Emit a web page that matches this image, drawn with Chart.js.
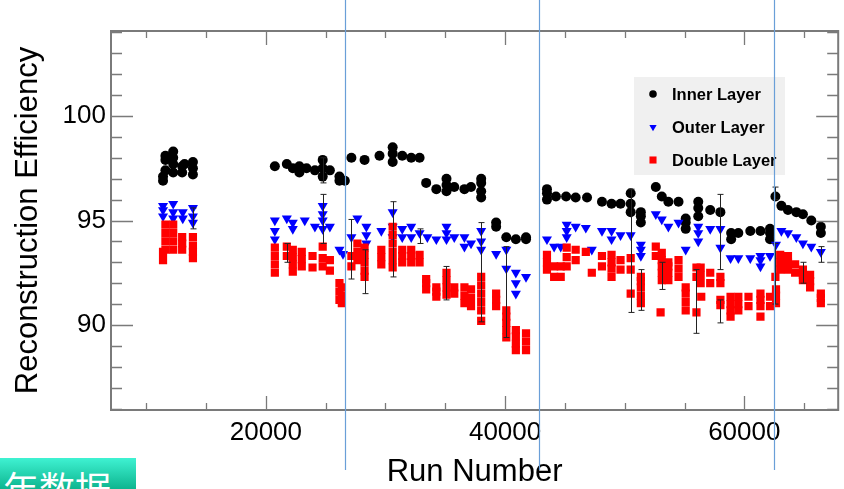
<!DOCTYPE html>
<html>
<head>
<meta charset="utf-8">
<script src="https://cdn.jsdelivr.net/npm/chart.js@4/dist/chart.umd.min.js"></script>
<style>
  html, body { margin: 0; padding: 0; background: #fff; }
  #wrap { position: relative; width: 844px; height: 489px; overflow: hidden; }
  #tag {
    position: absolute; left: 0; top: 458px; width: 136px; height: 31px; overflow: hidden;
    background: linear-gradient(#3ff2d2, #0db58f);
    color: #fff; font: 36px "Noto Sans CJK SC", sans-serif; line-height: 36px;
    padding-left: 3px; box-sizing: border-box;
  }
  #tag span { position: relative; top: 11px; }
</style>
</head>
<body>
<div id="wrap">
  <canvas id="mycanvas" width="844" height="489"></canvas>
  <div id="tag"><span>年数据</span></div>
</div>
<script>
// [run number, efficiency %]
var innerLayer = [
  [11400,96.9],[11400,97.1],[11600,97.4],[11600,97.9],[11600,98.1],[12250,97.3],[12250,97.7],[12250,98.0],[12250,98.3],
  [13000,97.6],[13000,97.3],[13200,97.7],[13900,97.2],[13900,97.5],[13900,97.8],
  [20750,97.6],[21750,97.7],[22250,97.5],[22800,97.3],[22800,97.6],[23400,97.5],[24100,97.4],
  [24750,97.1],[24750,97.5],[24750,97.9],[25350,97.4],[26150,96.9],[26150,97.1],[26600,96.9],
  [27150,98.0],[28250,97.9],[29500,98.1],[30600,97.8],[30600,98.2],[30600,98.5],[31400,98.1],[32150,98.0],[32850,98.0],
  [33400,96.8],[34250,96.5],[35100,96.4],[35100,96.7],[35100,97.0],[35750,96.6],[36600,96.5],[37150,96.6],
  [38000,96.1],[38000,96.4],[38000,96.8],[38000,97.0],
  [39250,94.7],[39250,94.9],[40100,94.2],[40900,94.1],[41750,94.1],[41750,94.2],
  [43500,96.0],[43500,96.3],[43500,96.5],[44250,96.15],[45100,96.15],[45900,96.1],[46850,96.1],[48100,95.9],
  [48900,95.8],[49650,95.8],[50500,95.4],[50500,95.8],[50500,96.3],[51350,94.9],[51350,95.2],[51350,95.4],
  [52600,96.6],[53100,96.15],[53650,95.9],[54500,95.9],[55100,94.6],[55100,94.9],[55100,95.1],
  [56150,95.2],[56150,95.6],[56150,95.9],[57150,95.5],[58000,95.4],[58900,94.1],[58900,94.4],[59500,94.4],
  [60500,94.5],[61350,94.5],[62150,94.1],[62150,94.4],[62150,94.6],[62600,96.15],
  [63100,95.7],[63650,95.5],[64350,95.4],[64900,95.3],[65600,95.0],[66400,94.4],[66400,94.7]
];

var outerLayer = [
  [11400,95.2],[11400,95.5],[11400,95.7],[12250,95.1],[12250,95.4],[12250,95.8],[13050,95.1],[13050,95.4],
  [13900,94.9],[13900,95.2],[13900,95.6],
  [20750,94.1],[20750,94.5],[20750,95.0],[21750,95.1],[22250,94.6],[22250,94.9],[23250,95.0],[24100,94.7],
  [24750,94.6],[24750,95.0],[24750,95.3],[24750,95.7],[25350,94.7],[26150,93.6],[26450,93.4],
  [27150,94.2],[27650,95.1],[28400,93.9],[28400,94.3],[28400,94.7],[29650,94.5],[30600,94.2],[30600,94.7],[30600,95.4],
  [31400,94.2],[31400,94.6],[32150,94.2],[32150,94.7],[32850,94.4],[33500,94.2],[34250,94.1],
  [35100,94.1],[35100,94.4],[35100,94.7],[35750,94.2],[36600,93.75],[36600,94.2],[37150,93.9],
  [38000,93.6],[38000,94.0],[38000,94.5],
  [39250,93.4],[40100,92.7],[40100,93.6],[40900,91.5],[40900,92.0],[40900,92.5],[41750,92.3],
  [43500,94.1],[44100,93.75],[44650,93.75],[45150,94.2],[45150,94.5],[45150,94.8],[45900,94.7],[46750,94.65],
  [47250,93.6],[48100,94.5],[48900,94.1],[48900,94.5],[49650,94.3],[50500,94.3],[51350,93.3],[51350,93.6],[51350,93.85],
  [52600,95.3],[53100,95.05],[53650,94.7],[54500,94.9],[55100,93.6],[56150,94.0],[56150,94.4],[56150,94.7],
  [57150,94.6],[58000,93.7],[58000,94.6],[58850,93.2],[59500,93.2],[60500,93.2],[61350,92.8],[61350,93.1],[61350,93.3],
  [62150,93.3],[62650,93.85],
  [63100,94.5],[63650,94.4],[64350,94.2],[64900,93.9],[65600,93.75],[66400,93.5]
];

var doubleLayer = [
  [11400,93.1],[11400,93.5],[11600,93.6],[11600,94.0],[11600,94.4],[11600,94.8],[12250,93.6],[12250,94.0],[12250,94.4],[12250,94.8],
  [13000,93.6],[13000,93.9],[13000,94.2],[13900,93.2],[13900,93.5],[13900,93.8],[13900,94.2],
  [20750,92.5],[20750,92.9],[20750,93.3],[20750,93.7],[21750,93.3],[21750,93.75],
  [22250,92.55],[22250,92.9],[22250,93.25],[22250,93.6],[23000,92.8],[23000,93.15],[23000,93.5],
  [23900,92.75],[23900,93.3],[24750,92.8],[24750,93.2],[24750,93.75],[25350,92.6],[25350,93.1],
  [26150,91.2],[26150,91.6],[26150,92.0],[26350,91.05],[26350,91.4],[26350,91.8],
  [27150,92.8],[27150,93.3],[27650,93.1],[27650,93.5],[27650,93.9],
  [28250,92.3],[28250,92.6],[28250,93.0],[28250,93.35],[28250,93.7],[29650,92.9],[29650,93.25],[29650,93.6],
  [30600,92.75],[30600,93.1],[30600,93.5],[30600,93.9],[30600,94.3],[30600,94.7],
  [31400,93.0],[31400,93.3],[31400,93.6],[32150,93.0],[32150,93.3],[32150,93.6],[32850,93.0],[32850,93.35],
  [33400,91.7],[33400,92.0],[33400,92.2],[34250,91.35],[34250,91.6],[34250,91.8],
  [35100,91.45],[35100,91.8],[35100,92.15],[35100,92.5],[35750,91.5],[35750,91.8],
  [36600,91.05],[36600,91.4],[36600,91.8],[37150,90.9],[37150,91.3],[37150,91.7],
  [38000,90.2],[38000,90.7],[38000,91.1],[38000,91.5],[38000,91.9],[38000,92.3],
  [39250,90.9],[39250,91.2],[39250,91.5],[40100,89.4],[40100,89.75],[40100,90.1],[40100,90.4],[40100,90.7],
  [40900,88.8],[40900,89.1],[40900,89.45],[40900,89.75],[41750,88.8],[41750,89.2],[41750,89.6],
  [43500,92.65],[43500,93.0],[43500,93.35],[44100,92.3],[44100,92.8],[44650,92.3],[44650,92.8],
  [45150,92.8],[45150,93.25],[45150,93.7],[45900,93.1],[45900,93.6],[46750,93.5],[47250,92.5],
  [48100,92.8],[48100,93.3],[48900,92.3],[48900,92.7],[48900,93.0],[48900,93.35],[49650,92.65],[49650,93.1],
  [50500,91.5],[50500,92.65],[50500,93.2],[51350,91.05],[51350,91.4],[51350,91.8],[51350,92.1],[51350,92.3],
  [52600,93.3],[52600,93.75],[53000,90.6],[53100,92.15],[53100,92.5],[53100,92.8],[53100,93.1],[53100,93.45],
  [53650,92.15],[53650,92.5],[53650,92.8],[53650,93.0],[54500,92.3],[54500,92.7],[54500,93.1],
  [55100,90.7],[55100,91.1],[55100,91.5],[55100,91.8],[56000,90.6],[56000,92.3],[56000,92.75],
  [56350,92.0],[56350,92.4],[56350,92.75],[56400,91.35],[57150,92.0],[57150,92.5],[58000,92.0],[58000,92.3],
  [58000,90.95],[58000,91.2],[58850,90.4],[58850,90.7],[58850,91.0],[58850,91.35],[59500,90.7],[59500,91.0],[59500,91.35],
  [60350,90.9],[60350,91.35],[61350,90.4],[61350,90.9],[61350,91.2],[61350,91.5],[62150,90.9],[62150,91.35],
  [62600,92.3],[62650,91.05],[62650,91.4],[62650,91.7],
  [63000,92.65],[63000,93.0],[63000,93.35],[63650,92.65],[63650,93.0],[63650,93.3],[64250,92.5],[64250,92.9],
  [64900,92.15],[64900,92.4],[64900,92.65],[65500,91.8],[65500,92.1],[65500,92.4],[66400,91.05],[66400,91.3],[66400,91.5]
];

// visible error bars: [run, low, high]
var errorBars = [
  [13900,94.6,95.6],[21750,93.0,93.9],[24750,96.8,98.0],[24750,93.9,96.25],[27150,92.2,95.05],
  [28250,91.5,93.6],[30600,92.3,95.9],[32850,93.9,94.6],[35100,91.2,92.8],[38000,90.15,94.9],
  [40100,89.4,93.75],[50500,90.6,96.5],[51350,90.7,92.65],[53100,91.7,93.0],[56000,89.6,92.65],
  [58000,92.65,96.25],[58000,90.1,91.2],[62600,96.0,96.6],[62600,91.0,93.9],[64900,92.0,93.0],[66400,93.0,93.75]
];

// run numbers of the vertical period markers drawn over the slide
var periodMarks = [26600, 42850, 62500];

var xTicks = [20000, 40000, 60000];
var yTicks = [90, 95, 100];

function toXY(list) {
  return list.map(function(p){ return {x: p[0], y: p[1]}; });
}

var rootFrame = {
  id: 'rootFrame',
  afterDatasetsDraw: function(chart) {
    var ctx = chart.ctx, xs = chart.scales.x, ys = chart.scales.y;
    ctx.save();
    ctx.strokeStyle = '#222';
    ctx.lineWidth = 1;
    errorBars.forEach(function(e){
      var x = Math.round(xs.getPixelForValue(e[0])) + 0.5;
      var y1 = ys.getPixelForValue(e[1]), y2 = ys.getPixelForValue(e[2]);
      ctx.beginPath();
      ctx.moveTo(x, y1); ctx.lineTo(x, y2);
      ctx.moveTo(x - 3, y1); ctx.lineTo(x + 3, y1);
      ctx.moveTo(x - 3, y2); ctx.lineTo(x + 3, y2);
      ctx.stroke();
    });
    ctx.restore();
  },
  afterDraw: function(chart) {
    var ctx = chart.ctx, a = chart.chartArea, xs = chart.scales.x, ys = chart.scales.y;
    ctx.save();
    // frame + inward ticks, ROOT style
    ctx.strokeStyle = '#7a7a7a';
    ctx.lineWidth = 2;
    ctx.strokeRect(a.left, a.top, a.right - a.left, a.bottom - a.top);
    ctx.lineWidth = 1.3;
    ctx.beginPath();
    for (var v = 86; v <= 104; v++) {
      var y = Math.round(ys.getPixelForValue(v)) + 0.5;
      var len = (v % 5 === 0) ? 22 : 11;
      ctx.moveTo(a.left, y); ctx.lineTo(a.left + len, y);
      ctx.moveTo(a.right, y); ctx.lineTo(a.right - len, y);
    }
    for (var r = 10000; r <= 65000; r += 5000) {
      var x = Math.round(xs.getPixelForValue(r)) + 0.5;
      var l2 = (r % 20000 === 0) ? 14 : 7;
      ctx.moveTo(x, a.bottom); ctx.lineTo(x, a.bottom - l2);
      ctx.moveTo(x, a.top); ctx.lineTo(x, a.top + l2);
    }
    ctx.stroke();

    // legend box
    ctx.fillStyle = '#f0f0f0';
    ctx.fillRect(634, 77, 151, 98);
    var rows = [
      {t: 'Inner Layer', s: 'circle', c: '#000', r: 3.8, rot: 0},
      {t: 'Outer Layer', s: 'triangle', c: '#0000ff', r: 4.2, rot: 180},
      {t: 'Double Layer', s: 'rect', c: '#ff0000', r: 5, rot: 0}
    ];
    ctx.font = 'bold 16.5px "Liberation Sans", Arial, sans-serif';
    ctx.textBaseline = 'middle';
    rows.forEach(function(row, i){
      var cy = 94 + i * 33;
      ctx.fillStyle = row.c;
      ctx.strokeStyle = row.c;
      Chart.helpers.drawPoint(ctx, {pointStyle: row.s, radius: row.r, rotation: row.rot, borderWidth: 0}, 653, cy);
      ctx.fillStyle = '#000';
      ctx.fillText(row.t, 672, cy + 1);
    });

    // period markers
    ctx.strokeStyle = '#6a9fd8';
    ctx.lineWidth = 1.2;
    ctx.beginPath();
    periodMarks.forEach(function(r){
      var x = Math.round(xs.getPixelForValue(r)) + 0.5;
      ctx.moveTo(x, 0); ctx.lineTo(x, 470);
    });
    ctx.stroke();
    ctx.restore();
  }
};

var ctx = document.getElementById('mycanvas');
var effChart = new Chart(ctx, {
  type: 'scatter',
  data: {
    datasets: [
      {
        label: 'Inner Layer',
        data: toXY(innerLayer),
        pointStyle: 'circle',
        pointRadius: 5,
        backgroundColor: '#000',
        borderColor: '#000',
        borderWidth: 0,
        order: 3
      },
      {
        label: 'Outer Layer',
        data: toXY(outerLayer),
        pointStyle: 'triangle',
        rotation: 180,
        pointRadius: 5.8,
        backgroundColor: '#0000ff',
        borderColor: '#0000ff',
        borderWidth: 0,
        order: 2
      },
      {
        label: 'Double Layer',
        data: toXY(doubleLayer),
        pointStyle: 'rect',
        pointRadius: 5.8,
        backgroundColor: '#ff0000',
        borderColor: '#ff0000',
        borderWidth: 0,
        order: 1
      }
    ]
  },
  options: {
    responsive: false,
    animation: false,
    devicePixelRatio: 1,
    layout: { padding: { top: 31, right: 5, left: 0, bottom: 0 } },
    plugins: { legend: { display: false }, tooltip: { enabled: false } },
    scales: {
      x: {
        type: 'linear',
        min: 7050,
        max: 67850,
        grid: { display: false, drawTicks: false, tickLength: 0 },
        border: { display: false },
        afterBuildTicks: function(s){ s.ticks = xTicks.map(function(v){ return {value: v}; }); },
        afterFit: function(s){ s.height = 79; },
        ticks: {
          padding: 7,
          color: '#000',
          font: { family: '"Liberation Sans", Arial, sans-serif', size: 26 },
          callback: function(v){ return String(v); }
        },
        title: {
          display: true,
          text: 'Run Number',
          color: '#000',
          padding: { top: 0, bottom: -2 },
          font: { family: '"Liberation Sans", Arial, sans-serif', size: 31 }
        }
      },
      y: {
        type: 'linear',
        min: 85.93,
        max: 104.07,
        grid: { display: false, drawTicks: false, tickLength: 0 },
        border: { display: false },
        afterBuildTicks: function(s){ s.ticks = yTicks.map(function(v){ return {value: v}; }); },
        afterFit: function(s){ s.width = 111; },
        ticks: {
          padding: 5,
          color: '#000',
          font: { family: '"Liberation Sans", Arial, sans-serif', size: 26 },
          callback: function(v){ return String(v); }
        },
        title: {
          display: true,
          text: 'Reconstruction Efficiency',
          color: '#000',
          padding: { top: 10, bottom: 0 },
          font: { family: '"Liberation Sans", Arial, sans-serif', size: 31 }
        }
      }
    }
  },
  plugins: [rootFrame]
});
</script>
</body>
</html>
